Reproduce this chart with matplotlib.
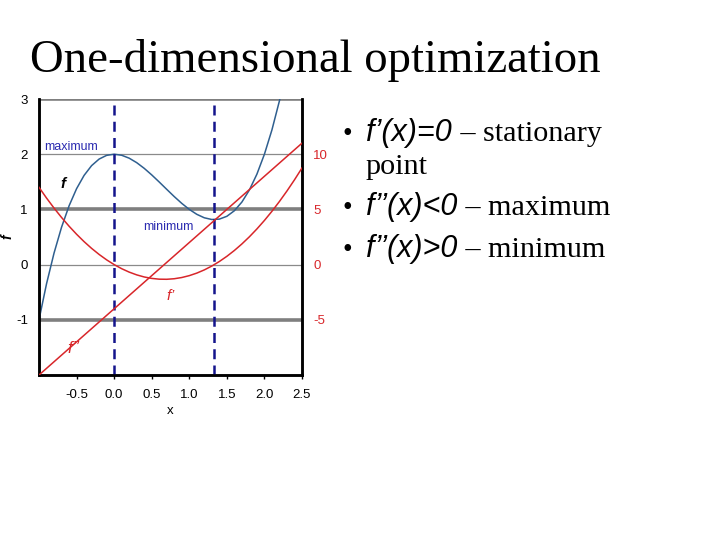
import numpy as np
import matplotlib.pyplot as plt

# values
x = [-1.0, -0.9, -0.8, -0.7, -0.6, -0.5, -0.4, -0.3, -0.2, -0.1,
     0.0, 0.1, 0.2, 0.3, 0.4, 0.5, 0.6, 0.7, 0.8, 0.9,
     1.0, 1.1, 1.2, 1.3, 1.4, 1.5, 1.6, 1.7, 1.8, 1.9,
     2.0, 2.1, 2.2, 2.3, 2.4, 2.5]
f = [-1.0, -0.349, 0.208, 0.677, 1.064, 1.375, 1.616, 1.793, 1.912, 1.979,
     2.0, 1.981, 1.928, 1.847, 1.744, 1.625, 1.496, 1.363, 1.232, 1.109,
     1.0, 0.911, 0.848, 0.817, 0.824, 0.875, 0.976, 1.133, 1.352, 1.639,
     2.0, 2.441, 2.968, 3.587, 4.304, 5.125]
df = [7.0, 6.03, 5.12, 4.27, 3.48, 2.75, 2.08, 1.47, 0.92, 0.43,
      0.0, -0.37, -0.68, -0.93, -1.12, -1.25, -1.32, -1.33, -1.28, -1.17,
      -1.0, -0.77, -0.48, -0.13, 0.28, 0.75, 1.28, 1.87, 2.52, 3.23,
      4.0, 4.83, 5.72, 6.67, 7.68, 8.75]
d2f = [-10.0, -9.4, -8.8, -8.2, -7.6, -7.0, -6.4, -5.8, -5.2, -4.6,
       -4.0, -3.4, -2.8, -2.2, -1.6, -1.0, -0.4, 0.2, 0.8, 1.4,
       2.0, 2.6, 3.2, 3.8, 4.4, 5.0, 5.6, 6.2, 6.8, 7.4,
       8.0, 8.6, 9.2, 9.8, 10.4, 11.0]
stationary_x = [0.0, 1.333]

xticks = [-0.5, 0.0, 0.5, 1.0, 1.5, 2.0, 2.5]
xtick_labels = ['-0.5', '0.0', '0.5', '1.0', '1.5', '2.0', '2.5']
left_ticks = [-1, 0, 1, 2, 3]
right_ticks = [-5, 0, 5, 10]

bullets = [("f\u2019(x)=0", " \u2013 stationary"),
           ("f\u2019\u2019(x)<0", " \u2013 maximum"),
           ("f\u2019\u2019(x)>0", " \u2013 minimum")]

red = '#d8262a'
blue = '#2f5f8f'
navy = '#14148c'
label_blue = '#2a2ab0'

fig = plt.figure(figsize=(7.2, 5.4), dpi=100, facecolor='w')

ax = fig.add_axes([39/720, 1-375/540, 263/720, 276/540])
ax.set_xlim(-1, 2.5)
ax.set_ylim(-2, 3)

# grid lines, odd ones thicker like in the slide
for yv in [-1, 1, 3]:
    ax.axhline(yv, color='#7f7f7f', lw=2.6, zorder=1)
for yv in [0, 2]:
    ax.axhline(yv, color='#8a8a8a', lw=0.9, zorder=1)

ax.plot(x, f, color=blue, lw=1.1, zorder=3)

ax2 = ax.twinx()
ax2.set_ylim(-10, 15)
ax2.plot(x, df, color=red, lw=1.1, zorder=3)
ax2.plot(x, d2f, color=red, lw=1.1, zorder=3)

for xv in stationary_x:
    ax.axvline(xv, color=navy, lw=1.8, ls=(0, (4, 2.5)), zorder=4)

ax.set_xticks(xticks)
ax.set_xticklabels(xtick_labels, fontsize=9.5, family='Liberation Sans')
ax.set_yticks(left_ticks)
ax.set_yticklabels([str(t) for t in left_ticks], fontsize=9.5, family='Liberation Sans')
ax.tick_params(axis='x', length=3, width=1, pad=7)
ax.tick_params(axis='y', length=0, pad=8)
ax2.set_yticks(right_ticks)
ax2.set_yticklabels([str(t) for t in right_ticks], fontsize=9.5, family='Liberation Sans', color=red)
ax2.tick_params(axis='y', length=0, pad=8)

for a in (ax, ax2):
    for s in ['left', 'bottom', 'right']:
        a.spines[s].set_linewidth(1.8)
        a.spines[s].set_color('black')
    a.spines['top'].set_visible(False)

ax.set_xlabel('x', fontsize=9.5, family='Liberation Sans', labelpad=3)
ax.set_ylabel('f', fontsize=10, family='Liberation Sans', style='italic', weight='bold')
ax.yaxis.set_label_coords(-0.095, 0.5)

ax.text(-0.93, 2.08, 'maximum', color=label_blue, fontsize=9, family='Liberation Sans')
ax.text(0.38, 0.63, 'minimum', color=label_blue, fontsize=9, family='Liberation Sans')
ax.text(-0.72, 1.38, 'f', color='black', fontsize=11, family='Liberation Sans', style='italic', weight='bold')
ax.text(0.7, -0.65, 'f\u2019', color=red, fontsize=11, family='Liberation Sans', style='italic')
ax.text(-0.62, -1.6, 'f\u2019\u2019', color=red, fontsize=12, family='Liberation Sans', style='italic')

# slide text
over = fig.add_axes([0, 0, 1, 1])
over.axis('off')
over.set_xlim(0, 720)
over.set_ylim(540, 0)

over.text(30, 72, 'One-dimensional optimization', fontsize=33.7, family='Liberation Serif', va='baseline')

base_y = [141, 215, 257]
for (head, tail), by in zip(bullets, base_y):
    over.text(343, by, '\u2022', fontsize=20, family='Liberation Serif', va='baseline')
    t1 = over.text(366, by, head, fontsize=22, family='Liberation Sans', style='italic', va='baseline')
    over.annotate(tail, xy=(1, by), xycoords=(t1, 'data'), fontsize=21.7,
                  family='Liberation Serif', va='baseline', ha='left')
over.text(366, 174, 'point', fontsize=21.7, family='Liberation Serif', va='baseline')

plt.savefig('out.png', dpi=100, facecolor='w')
